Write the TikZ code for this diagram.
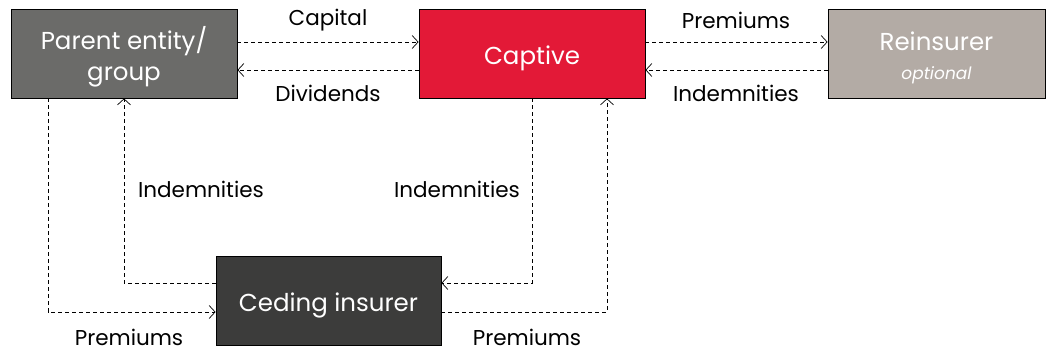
\documentclass[tikz,border=0pt]{standalone}
\usepackage{fontspec}
\setmainfont{Poppins}
\usetikzlibrary{arrows.meta}
\definecolor{parentgray}{HTML}{6B6B69}
\definecolor{captivered}{HTML}{E31937}
\definecolor{reinsgray}{HTML}{B3ABA5}
\definecolor{cedinggray}{HTML}{3C3C3B}
\newcommand{\bxtxt}[1]{\raisebox{-5pt}[\height][\depth]{\begin{tabular}{@{}c@{}}#1\end{tabular}}}
\begin{document}
\begin{tikzpicture}[x=1pt,y=-1pt,
  box/.style={draw=black, line width=0.8pt, minimum width=226pt, minimum height=89pt, text=white, font=\fontsize{24.5}{31}\selectfont, inner sep=0pt},
  flow/.style={dashed, dash pattern=on 4pt off 3pt, line width=0.7pt, -{Straight Barb[length=6pt,width=13pt,line width=0.7pt]}},
  lbl/.style={font=\fontsize{21.5}{24}\selectfont, text=black, inner sep=0pt}]
\useasboundingbox (0,0) rectangle (1056,352);
\node[box, fill=parentgray] (parent) at (124,53.5) {\bxtxt{Parent entity/\\group}};
\node[box, fill=captivered] (captive) at (532,53.5) {\bxtxt{Captive}};
\node[box, fill=reinsgray, minimum width=217pt] (reins) at (936.5,53.5) {\bxtxt{Reinsurer\\[-2pt]{\fontsize{17}{20}\selectfont\itshape optional}}};
\node[box, fill=cedinggray, minimum width=225pt] (ceding) at (328.5,300.5) {\bxtxt{Ceding insurer}};
% top flows
\draw[flow] (parent.east |- 0,42) -- (captive.west |- 0,42);
\draw[flow] (captive.west |- 0,70) -- (parent.east |- 0,70);
\draw[flow] (captive.east |- 0,42) -- (reins.west |- 0,42);
\draw[flow] (reins.west |- 0,70) -- (captive.east |- 0,70);
\node[lbl] (lcap) at (328,20) {Capital};
\node[lbl] (ldiv) at (328,93) {Dividends};
\node[lbl] (lprem1) at (736,20) {Premiums};
\node[lbl] (lind1) at (736,93) {Indemnities};
% vertical flows
\coordinate (a1) at (48,312);
\coordinate (a2) at (124,283);
\coordinate (a3) at (532,283);
\coordinate (a4) at (607,312);
\draw[flow] (parent.south -| a1) -- (a1) -- (ceding.west |- a1);
\draw[flow] (ceding.west |- a2) -- (a2) -- (parent.south -| a2);
\draw[flow] (captive.south -| a3) -- (a3) -- (ceding.east |- a3);
\draw[flow] (ceding.east |- a4) -- (a4) -- (captive.south -| a4);
\node[lbl] (lind2) at (201,189) {Indemnities};
\node[lbl] (lind3) at (457,189) {Indemnities};
\node[lbl] (lprem2) at (129,337) {Premiums};
\node[lbl] (lprem3) at (527,337) {Premiums};
\end{tikzpicture}
\end{document}
